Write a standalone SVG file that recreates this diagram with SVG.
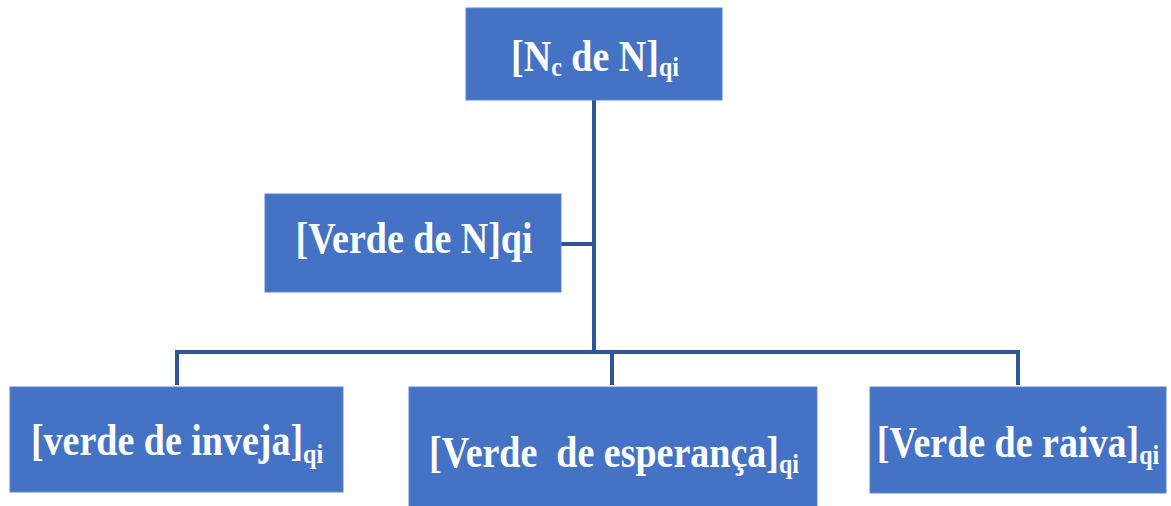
<svg xmlns="http://www.w3.org/2000/svg" width="1171" height="506" viewBox="0 0 1171 506">
<style>
.box{fill:#4472C4;stroke:#5B84CC;stroke-width:1}
.t{font-family:"Liberation Serif","Times New Roman",serif;font-weight:bold;font-size:38px;fill:#ffffff;text-anchor:middle;white-space:pre}
.s{font-size:24px}
.c{fill:none;stroke:#2F5597;stroke-width:4}
</style>
<rect width="1171" height="506" fill="#ffffff"/>
<g id="connectors">
<path class="c" d="M594 100 V352"/>
<path class="c" d="M561 244 H594"/>
<path class="c" d="M177 385 V352 H1018 V385"/>
<path class="c" d="M612 352 V385"/>
</g>
<g id="n-top">
<rect class="box" x="466" y="8" width="256" height="92"/>
<text class="t" transform="translate(595,71) scale(1,1.18)" xml:space="preserve">[N<tspan class="s" dy="4">c</tspan><tspan dy="-4"> de N]</tspan><tspan class="s" dy="4">qi</tspan></text>
</g>
<g id="n-verde">
<rect class="box" x="265" y="194" width="296" height="98"/>
<text class="t" transform="translate(414,253) scale(1,1.18)">[Verde de N]qi</text>
</g>
<g id="n-inveja">
<rect class="box" x="10" y="387" width="333" height="105"/>
<text class="t" transform="translate(177,455) scale(1,1.18)" xml:space="preserve">[verde de inveja]<tspan class="s" dy="7">qi</tspan></text>
</g>
<g id="n-esperanca">
<rect class="box" x="409" y="387" width="408" height="125"/>
<text class="t" transform="translate(614,467) scale(1,1.18)" xml:space="preserve">[Verde  de esperança]<tspan class="s" dy="5">qi</tspan></text>
</g>
<g id="n-raiva">
<rect class="box" x="870" y="387" width="296" height="106"/>
<text class="t" transform="translate(1018,457) scale(1,1.18)" xml:space="preserve">[Verde de raiva]<tspan class="s" dy="6">qi</tspan></text>
</g>
</svg>
